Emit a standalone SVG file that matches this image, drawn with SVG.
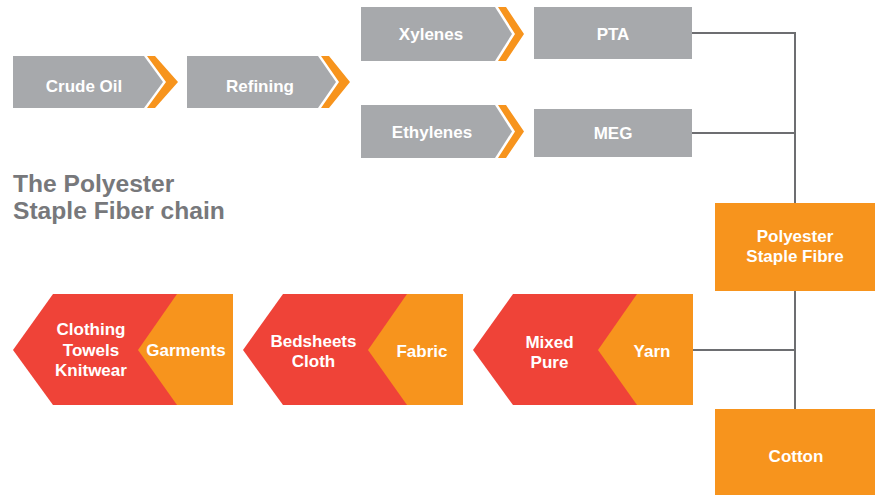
<svg xmlns="http://www.w3.org/2000/svg" width="880" height="495" viewBox="0 0 880 495">
  <style>
    .grey { fill: #a7a9ac; }
    .orange { fill: #f7941d; }
    .red { fill: #ef4338; }
    .lbl { font-family: "Liberation Sans", Arial, Helvetica, sans-serif; font-weight: bold; font-size: 17px; fill: #ffffff; text-anchor: middle; }
    .title { font-family: "Liberation Sans", Arial, Helvetica, sans-serif; font-weight: bold; font-size: 24.6px; fill: #77787b; }
    .link { stroke: #6d6e71; stroke-width: 2; fill: none; }
  </style>

  <rect width="880" height="495" fill="#ffffff"/>

  <!-- upstream chain: feedstock steps with orange chevrons -->
  <g id="crude-oil">
    <polygon class="grey" points="13,56 144,56 163,82 144,108 13,108"/>
    <polygon class="orange" points="147,56 155,56 178,82 155,108 147,108 166,82"/>
    <text class="lbl" x="84" y="91.5">Crude Oil</text>
  </g>
  <g id="refining">
    <polygon class="grey" points="187,56 318,56 336,82 318,108 187,108"/>
    <polygon class="orange" points="321,56 329,56 350,82 329,108 321,108 339,82"/>
    <text class="lbl" x="260" y="91.5">Refining</text>
  </g>
  <g id="xylenes">
    <polygon class="grey" points="361,7 495,7 512,34 495,61 361,61"/>
    <polygon class="orange" points="498,7 506,7 524,34 506,61 498,61 515,34"/>
    <text class="lbl" x="431" y="40">Xylenes</text>
  </g>
  <g id="ethylenes">
    <polygon class="grey" points="361,105 495,105 512,131.5 495,158 361,158"/>
    <polygon class="orange" points="498,105 506,105 524,131.5 506,158 498,158 515,131.5"/>
    <text class="lbl" x="432" y="138">Ethylenes</text>
  </g>
  <g id="pta">
    <rect class="grey" x="534" y="7" width="158" height="52"/>
    <text class="lbl" x="613" y="40">PTA</text>
  </g>
  <g id="meg">
    <rect class="grey" x="534" y="109" width="158" height="48"/>
    <text class="lbl" x="613" y="139">MEG</text>
  </g>

  <!-- connectors -->
  <g id="connectors">
    <polyline class="link" points="692,33 795,33 795,203"/>
    <line class="link" x1="692" y1="133" x2="795" y2="133"/>
    <line class="link" x1="795" y1="291" x2="795" y2="409"/>
    <line class="link" x1="689" y1="350" x2="795" y2="350"/>
  </g>

  <g id="psf">
    <rect class="orange" x="715" y="203" width="160" height="88"/>
    <text class="lbl" x="795" y="242">Polyester</text>
    <text class="lbl" x="795" y="262">Staple Fibre</text>
  </g>
  <g id="cotton">
    <rect class="orange" x="715" y="409" width="160" height="86"/>
    <text class="lbl" x="796" y="462">Cotton</text>
  </g>

  <!-- downstream chain: pointing left -->
  <g id="yarn">
    <polygon class="red" points="513,294 693,294 693,405 513,405 473,350"/>
    <polygon class="orange" points="637,294 693,294 693,405 637,405 598,350"/>
    <text class="lbl" x="549.5" y="348">Mixed</text>
    <text class="lbl" x="549.5" y="368">Pure</text>
    <text class="lbl" x="652" y="357">Yarn</text>
  </g>
  <g id="fabric">
    <polygon class="red" points="283,294 463,294 463,405 283,405 243,350"/>
    <polygon class="orange" points="407,294 463,294 463,405 407,405 368,350"/>
    <text class="lbl" x="313.5" y="347">Bedsheets</text>
    <text class="lbl" x="313.5" y="367">Cloth</text>
    <text class="lbl" x="422" y="357">Fabric</text>
  </g>
  <g id="garments">
    <polygon class="red" points="53,294 233,294 233,405 53,405 13,350"/>
    <polygon class="orange" points="177,294 233,294 233,405 177,405 138,350"/>
    <text class="lbl" x="91" y="335">Clothing</text>
    <text class="lbl" x="91" y="356">Towels</text>
    <text class="lbl" x="91" y="376">Knitwear</text>
    <text class="lbl" x="186" y="356">Garments</text>
  </g>

  <g id="title">
    <text class="title" x="13" y="192">The Polyester</text>
    <text class="title" x="13" y="219">Staple Fiber chain</text>
  </g>
</svg>
